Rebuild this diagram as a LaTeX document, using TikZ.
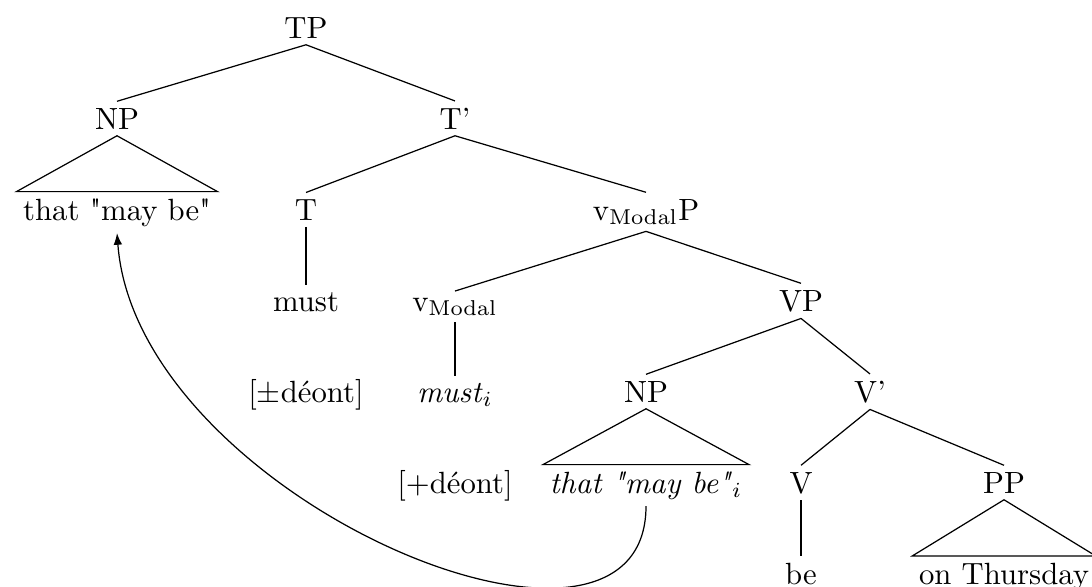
\documentclass[tikz,border=0pt]{standalone}
\usetikzlibrary{arrows.meta}
\begin{document}
\begin{tikzpicture}[x=0.3257pt,y=-0.3257pt,
  every node/.style={inner sep=2pt, anchor=base},
  branch/.style={draw, line width=0.4pt},
  movearrow/.style={draw, line width=0.4pt, -{Latex[length=3.8pt,width=2.8pt]}}]
\useasboundingbox (0,0) rectangle (1092,586);
% row 0
\node (TP) at (306,38) {TP};
% row 1
\node (NPa) at (117,129) {NP};
\node (Tbar) at (455,129) {T'};
% row 2
\node (NPatext) at (117,220) {that \textquotedbl may be\textquotedbl};
\node (T) at (306,220) {T};
\node (vP) at (646,220) {$\mathrm{v}_{\mathrm{Modal}}$P};
% row 3
\node (must) at (306,311) {must};
\node (v) at (455,311) {$\mathrm{v}_{\mathrm{Modal}}$};
\node (VP) at (801,311) {VP};
% row 4
\node (deonta) at (306,402) {[$\pm$déont]};
\node (musti) at (455,402) {\textit{must}$_i$};
\node (NPb) at (646,402) {NP};
\node (Vbar) at (870,402) {V'};
% row 5
\node (deontb) at (455,493) {[+déont]};
\node (NPbtext) at (646,493) {\textit{that \textquotedbl may be\textquotedbl}$_i$};
\node (V) at (801,493) {V};
\node (PP) at (1004,493) {PP};
% row 6
\node (be) at (801,584) {be};
\node (PPtext) at (1004,584) {on Thursday};
% branches
\path[branch] (TP.south) -- (NPa.north);
\path[branch] (TP.south) -- (Tbar.north);
\path[branch] (NPa.south) -- (NPatext.north west) -- (NPatext.north east) -- cycle;
\path[branch] (Tbar.south) -- (T.north);
\path[branch] (Tbar.south) -- (vP.north);
\path[branch] (T.south) -- (must.north);
\path[branch] (vP.south) -- (v.north);
\path[branch] (vP.south) -- (VP.north);
\path[branch] (v.south) -- (musti.north);
\path[branch] (VP.south) -- (NPb.north);
\path[branch] (VP.south) -- (Vbar.north);
\path[branch] (NPb.south) -- (NPbtext.north west) -- (NPbtext.north east) -- cycle;
\path[branch] (Vbar.south) -- (V.north);
\path[branch] (Vbar.south) -- (PP.north);
\path[branch] (V.south) -- (be.north);
\path[branch] (PP.south) -- (PPtext.north west) -- (PPtext.north east) -- cycle;
% movement arrow
\path[movearrow] (NPbtext.south) .. controls +(0,205) and +(20,265) .. (NPatext.south);
\end{tikzpicture}
\end{document}
